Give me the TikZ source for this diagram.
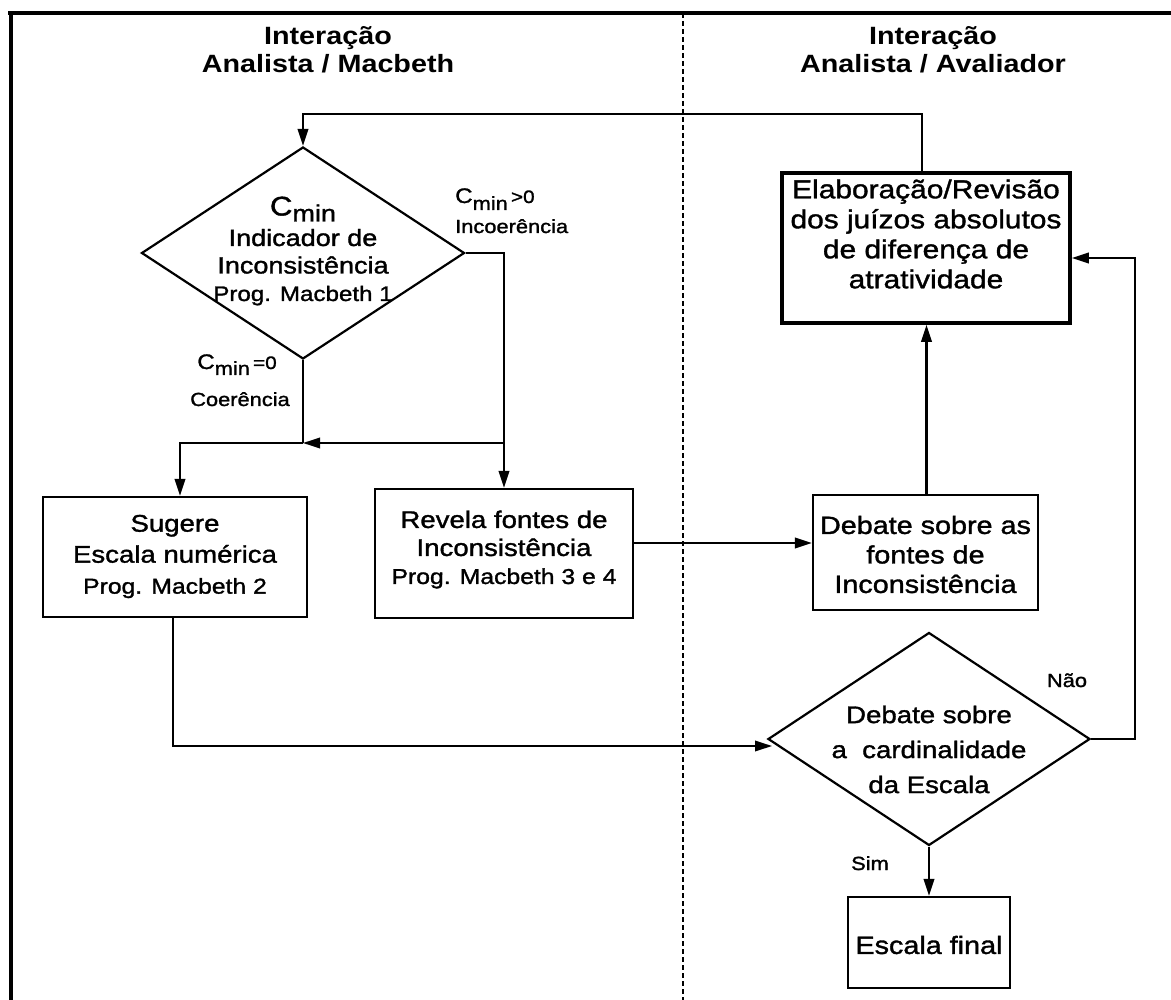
\documentclass[tikz,border=0pt]{standalone}
\usepackage{fontspec}
\setmainfont{Liberation Sans}[FakeStretch=1.15,UprightFeatures={FakeBold=1.4}]
\usetikzlibrary{shapes.geometric,arrows.meta}
\newcommand\fsz[2]{\fontsize{#1}{#2}\selectfont}
\begin{document}
\begin{tikzpicture}[x=1pt,y=-1pt,
  box/.style={draw,line width=2.2pt,rectangle,inner sep=0pt},
  dia/.style={draw,line width=2.2pt,diamond,inner sep=0pt},
  txt/.style={align=center,inner sep=0pt},
  lbl/.style={inner sep=0pt,font=\fsz{19}{23}},
  head/.style={align=center,inner sep=0pt,font=\bfseries\fsz{25}{28}},
  link/.style={line width=2.1pt},
  flow/.style={link,-{Triangle[length=17pt,width=10.5pt]}},
]
\useasboundingbox (0,0) rectangle (1171,1000);

% frame and column separator
\draw[line width=3.2pt] (8,13) -- (1171,13);
\draw[line width=3.2pt] (11,11.4) -- (11,1000);
\draw[line width=1.3pt,dash pattern=on 5pt off 3pt] (683,13) -- (683,1000);

% column headings
\node[head] (hl) at (328,50) {Interação\\Analista / Macbeth};
\node[head] (hr) at (933,50) {Interação\\Analista / Avaliador};

% shapes
\node[dia,minimum width=323pt,minimum height=212pt] (d1) at (303,253) {};
\node[box,minimum width=264pt,minimum height=120pt] (sug) at (175,557) {};
\node[box,minimum width=258pt,minimum height=129pt] (rev) at (504,553.5) {};
\node[box,line width=3.6pt,minimum width=288pt,minimum height=150pt] (elab) at (926,248) {};
\node[box,minimum width=225pt,minimum height=115pt] (deb) at (925.5,552.5) {};
\node[dia,minimum width=322pt,minimum height=213pt] (d2) at (929,739) {};
\node[box,minimum width=162pt,minimum height=91pt] (fin) at (929,942.5) {};

% texts inside the shapes
\node[txt,font=\fsz{23.5}{27.5}] (d1t) at (303,251)
  {{\fsz{27}{28}C}\raisebox{-6pt}{min}\\[3pt]Indicador de\\Inconsistência\\{\fsz{21}{27.5}Prog. Macbeth 1}};
\node[txt,font=\fsz{24}{31}] (sugt) at (175,556.5)
  {Sugere\\Escala numérica\\{\fsz{21.5}{31}Prog. Macbeth 2}};
\node[txt,font=\fsz{24}{28}] (revt) at (504,549.5)
  {Revela fontes de\\Inconsistência\\{\fsz{21.5}{28}Prog. Macbeth 3 e 4}};
\node[txt,font=\fsz{26}{30}] (elabt) at (926,234)
  {Elaboração/Revisão\\dos juízos absolutos\\de diferença de\\atratividade};
\node[txt,font=\fsz{25}{29.5}] (debt) at (925.5,554.5)
  {Debate sobre as\\fontes de\\Inconsistência};
\node[txt,font=\fsz{24}{35}] (d2t) at (929,749.5)
  {Debate sobre\\a\ \ cardinalidade\\da Escala};
\node[txt,font=\fsz{25}{30}] (fint) at (929,945) {Escala final};

% branch labels
\node[lbl,anchor=base west] (lgt) at (455,203)
  {{\fsz{21}{23}C}\raisebox{-7pt}{min}\,{\fsz{18}{23}>0}};
\node[lbl,anchor=base west] (linc) at (455,233) {Incoerência};
\node[lbl,anchor=base] (leq) at (237,369)
  {{\fsz{21}{23}C}\raisebox{-6pt}{min}\,{\fsz{18}{23}=0}};
\node[lbl,anchor=base] (lcoe) at (240,406) {Coerência};
\node[lbl,anchor=base] (lnao) at (1067,687) {Não};
\node[lbl,anchor=base] (lsim) at (870,870) {Sim};

% connectors
\coordinate (fb) at (303,114);
\coordinate (jn) at (303,443);
\coordinate (d2in) at (772,746);
\coordinate (rl) at (1135,258);

\draw[flow] ([xshift=-4pt]elab.north) |- (fb) -- (d1.north);
\draw[flow] (d1.east) -| (rev.north);
\draw[link] (d1.south) -- (jn);
\draw[flow] (rev.north |- jn) -- (jn);
\draw[flow] (jn) -| ([xshift=5pt]sug.north);
\draw[flow] ([xshift=-2pt]sug.south) |- (d2in);
\draw[flow] (rev.east |- 0,543) -- (deb.west |- 0,543);
\draw[flow] ([xshift=1pt]deb.north) -- ([xshift=1pt]deb.north |- elab.south);
\draw[flow] (d2.east) -| (rl) -- (rl -| elab.east);
\draw[flow] (d2.south) -- (fin.north);
\end{tikzpicture}
\end{document}
